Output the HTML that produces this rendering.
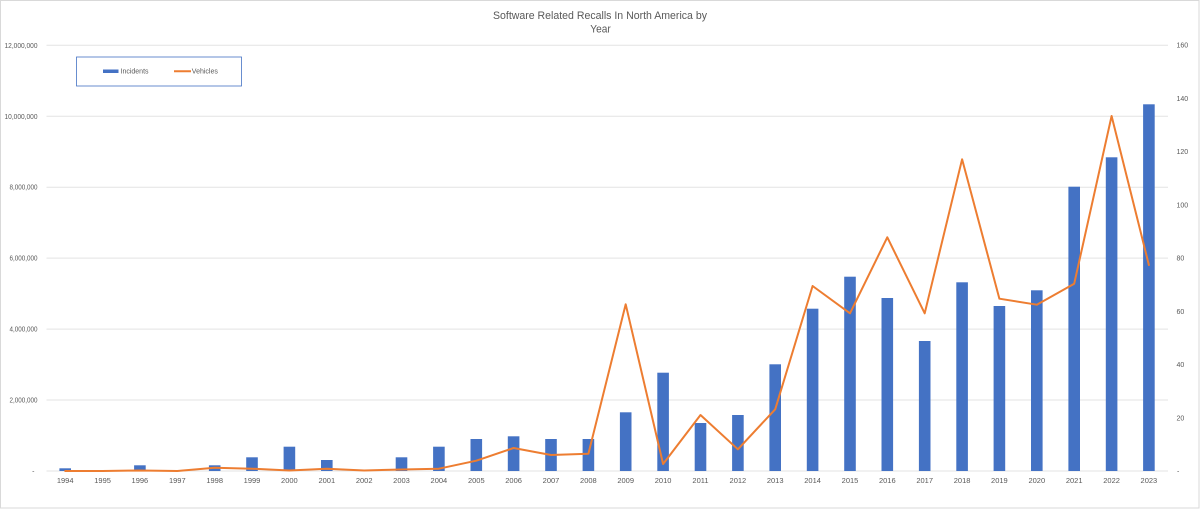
<!DOCTYPE html>
<html><head><meta charset="utf-8"><style>
html,body{margin:0;padding:0;background:#fff;}
svg{display:block;font-family:"Liberation Sans",sans-serif;}
</style></head><body>
<svg width="1200" height="510" viewBox="0 0 1200 510" xmlns="http://www.w3.org/2000/svg">
<rect x="0.5" y="0.5" width="1198.5" height="507.5" fill="#fff" stroke="#d9d9d9" stroke-width="1"/>
<text x="600" y="19" font-size="11" fill="#595959" text-anchor="middle" textLength="214" lengthAdjust="spacingAndGlyphs">Software Related Recalls In North America by</text>
<text x="600.5" y="32.5" font-size="11" fill="#595959" text-anchor="middle" textLength="20.5" lengthAdjust="spacingAndGlyphs">Year</text>
<g stroke="#e3e3e3" stroke-width="1">
<line x1="46.5" x2="1168" y1="45.3" y2="45.3"/>
<line x1="46.5" x2="1168" y1="116.3" y2="116.3"/>
<line x1="46.5" x2="1168" y1="187.2" y2="187.2"/>
<line x1="46.5" x2="1168" y1="258.1" y2="258.1"/>
<line x1="46.5" x2="1168" y1="329.1" y2="329.1"/>
<line x1="46.5" x2="1168" y1="400" y2="400"/>
<line x1="46.5" x2="1168" y1="471" y2="471"/>
</g>
<g font-size="7" fill="#595959" text-anchor="end">
<text x="37.5" y="47.8" textLength="33" lengthAdjust="spacingAndGlyphs">12,000,000</text>
<text x="37.5" y="118.8" textLength="33" lengthAdjust="spacingAndGlyphs">10,000,000</text>
<text x="37.5" y="189.7" textLength="28" lengthAdjust="spacingAndGlyphs">8,000,000</text>
<text x="37.5" y="260.6" textLength="28" lengthAdjust="spacingAndGlyphs">6,000,000</text>
<text x="37.5" y="331.6" textLength="28" lengthAdjust="spacingAndGlyphs">4,000,000</text>
<text x="37.5" y="402.5" textLength="28" lengthAdjust="spacingAndGlyphs">2,000,000</text>
<text x="34.5" y="473.5">-</text>
</g>
<g font-size="7" fill="#595959" text-anchor="start">
<text x="1176.5" y="47.6">160</text>
<text x="1176.5" y="100.8">140</text>
<text x="1176.5" y="154.1">120</text>
<text x="1176.5" y="207.3">100</text>
<text x="1176.5" y="260.5">80</text>
<text x="1176.5" y="313.8">60</text>
<text x="1176.5" y="367">40</text>
<text x="1176.5" y="420.3">20</text>
<text x="1177" y="473.5">-</text>
</g>
<g fill="#4472C4">
<rect x="59.4" y="468.3" width="11.6" height="2.7"/>
<rect x="134.1" y="465.3" width="11.6" height="5.7"/>
<rect x="208.9" y="465.3" width="11.6" height="5.7"/>
<rect x="246.2" y="457.3" width="11.6" height="13.7"/>
<rect x="283.6" y="446.7" width="11.6" height="24.3"/>
<rect x="321.0" y="460" width="11.6" height="11"/>
<rect x="395.7" y="457.3" width="11.6" height="13.7"/>
<rect x="433.1" y="446.7" width="11.6" height="24.3"/>
<rect x="470.5" y="439" width="11.6" height="32"/>
<rect x="507.8" y="436.3" width="11.6" height="34.7"/>
<rect x="545.2" y="439" width="11.6" height="32"/>
<rect x="582.6" y="439" width="11.6" height="32"/>
<rect x="619.9" y="412.3" width="11.6" height="58.7"/>
<rect x="657.3" y="372.7" width="11.6" height="98.3"/>
<rect x="694.7" y="423" width="11.6" height="48"/>
<rect x="732.1" y="415" width="11.6" height="56"/>
<rect x="769.4" y="364.3" width="11.6" height="106.7"/>
<rect x="806.8" y="308.7" width="11.6" height="162.3"/>
<rect x="844.2" y="276.7" width="11.6" height="194.3"/>
<rect x="881.5" y="298" width="11.6" height="173"/>
<rect x="918.9" y="341" width="11.6" height="130"/>
<rect x="956.3" y="282.3" width="11.6" height="188.7"/>
<rect x="993.6" y="306" width="11.6" height="165"/>
<rect x="1031.0" y="290.3" width="11.6" height="180.7"/>
<rect x="1068.4" y="186.7" width="11.6" height="284.3"/>
<rect x="1105.8" y="157.3" width="11.6" height="313.7"/>
<rect x="1143.1" y="104.3" width="11.6" height="366.7"/>
</g>
<polyline fill="none" stroke="#ED7D31" stroke-width="2" stroke-linejoin="round" stroke-linecap="round" points="65.2,471 102.6,471 139.9,470.5 177.3,471 214.7,467.7 252.0,468.7 289.4,470.5 326.8,468.7 364.2,470.5 401.5,469.5 438.9,468.7 476.3,460.7 513.6,448 551.0,455 588.4,453.7 625.7,304.3 663.1,464 700.5,415 737.9,449.3 775.2,409.3 812.6,286 850.0,313.3 887.3,237.3 924.7,313.3 962.1,159.3 999.4,298.7 1036.8,304.7 1074.2,283.7 1111.6,116 1148.9,265"/>
<g font-size="7.5" fill="#595959" text-anchor="middle">
<text x="65.2" y="483">1994</text>
<text x="102.6" y="483">1995</text>
<text x="139.9" y="483">1996</text>
<text x="177.3" y="483">1997</text>
<text x="214.7" y="483">1998</text>
<text x="252.0" y="483">1999</text>
<text x="289.4" y="483">2000</text>
<text x="326.8" y="483">2001</text>
<text x="364.2" y="483">2002</text>
<text x="401.5" y="483">2003</text>
<text x="438.9" y="483">2004</text>
<text x="476.3" y="483">2005</text>
<text x="513.6" y="483">2006</text>
<text x="551.0" y="483">2007</text>
<text x="588.4" y="483">2008</text>
<text x="625.7" y="483">2009</text>
<text x="663.1" y="483">2010</text>
<text x="700.5" y="483">2011</text>
<text x="737.9" y="483">2012</text>
<text x="775.2" y="483">2013</text>
<text x="812.6" y="483">2014</text>
<text x="850.0" y="483">2015</text>
<text x="887.3" y="483">2016</text>
<text x="924.7" y="483">2017</text>
<text x="962.1" y="483">2018</text>
<text x="999.4" y="483">2019</text>
<text x="1036.8" y="483">2020</text>
<text x="1074.2" y="483">2021</text>
<text x="1111.6" y="483">2022</text>
<text x="1148.9" y="483">2023</text>
</g>
<rect x="76.5" y="57" width="165" height="29" fill="#fff" stroke="#4472C4" stroke-width="0.8"/>
<rect x="103" y="69.5" width="15.5" height="3.5" fill="#4472C4"/>
<text x="120.5" y="73.5" font-size="7" fill="#595959">Incidents</text>
<line x1="174" x2="191" y1="71.2" y2="71.2" stroke="#ED7D31" stroke-width="2"/>
<text x="191.8" y="73.5" font-size="7" fill="#595959">Vehicles</text>
</svg>
</body></html>
